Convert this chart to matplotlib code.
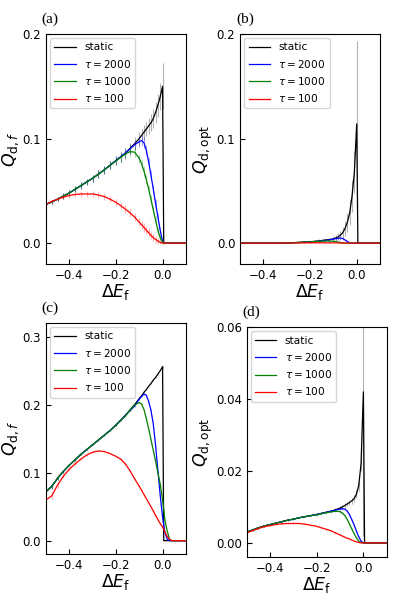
import numpy as np
import matplotlib
matplotlib.use('Agg')
import matplotlib.pyplot as plt

# grid of energy shifts (shared by every curve)
x = [-0.5, -0.475, -0.45, -0.425, -0.4, -0.375, -0.35, -0.325, -0.3, -0.275,
     -0.25, -0.225, -0.2, -0.18, -0.16, -0.14, -0.12, -0.1, -0.09, -0.08,
     -0.07, -0.06, -0.05, -0.04, -0.03, -0.02, -0.01, 0.0, 0.005, 0.01,
     0.02, 0.03, 0.04, 0.06, 0.08, 0.1]

labels = ['static', r'$\tau = 2000$', r'$\tau = 1000$', r'$\tau = 100$']
colors = ['black', 'blue', 'green', 'red']

# (a) Q_d,f
a_static = [0.037, 0.0395, 0.042, 0.045, 0.048, 0.0515, 0.055, 0.0585, 0.062, 0.066,
            0.070, 0.0745, 0.079, 0.0825, 0.086, 0.0905, 0.095, 0.100, 0.103, 0.106,
            0.109, 0.112, 0.115, 0.119, 0.125, 0.132, 0.140, 0.150, 0, 0,
            0, 0, 0, 0, 0, 0]
a_2000 = [0.037, 0.0395, 0.042, 0.045, 0.048, 0.0515, 0.055, 0.0585, 0.062, 0.066,
          0.070, 0.0745, 0.079, 0.0825, 0.086, 0.090, 0.094, 0.097, 0.098, 0.096,
          0.089, 0.078, 0.065, 0.052, 0.038, 0.025, 0.012, 0.002, 0, 0,
          0, 0, 0, 0, 0, 0]
a_1000 = [0.037, 0.0395, 0.042, 0.045, 0.048, 0.0515, 0.055, 0.0585, 0.062, 0.066,
          0.070, 0.0745, 0.0785, 0.082, 0.085, 0.0875, 0.087, 0.081, 0.076, 0.069,
          0.061, 0.052, 0.042, 0.032, 0.022, 0.012, 0.005, 0.001, 0, 0,
          0, 0, 0, 0, 0, 0]
a_100 = [0.037, 0.040, 0.042, 0.044, 0.0455, 0.0465, 0.047, 0.047, 0.047, 0.046,
         0.0445, 0.042, 0.039, 0.036, 0.0325, 0.029, 0.025, 0.020, 0.0175, 0.015,
         0.0125, 0.010, 0.0075, 0.0053, 0.0035, 0.002, 0.0008, 0.0, 0, 0,
         0, 0, 0, 0, 0, 0]
a_static_err = [0.002, 0.002, 0.002, 0.0025, 0.0025, 0.003, 0.003, 0.003, 0.0035, 0.0035,
                0.004, 0.004, 0.0045, 0.005, 0.005, 0.0055, 0.006, 0.006, 0.0065, 0.007,
                0.007, 0.0075, 0.008, 0.009, 0.010, 0.011, 0.013, 0.022, 0, 0,
                0, 0, 0, 0, 0, 0]
a_2000_err = [0.002, 0.002, 0.002, 0.0025, 0.0025, 0.003, 0.003, 0.003, 0.0035, 0.0035,
              0.004, 0.004, 0.0045, 0.0045, 0.005, 0.005, 0.005, 0.005, 0.005, 0.005,
              0.005, 0.0045, 0.0045, 0.004, 0.004, 0.0035, 0.003, 0.002, 0, 0,
              0, 0, 0, 0, 0, 0]
a_1000_err = [0.002, 0.002, 0.002, 0.0025, 0.0025, 0.003, 0.003, 0.003, 0.0035, 0.0035,
              0.004, 0.004, 0.004, 0.004, 0.0045, 0.0045, 0.0045, 0.0045, 0.0045, 0.0045,
              0.004, 0.004, 0.004, 0.0035, 0.0035, 0.003, 0.0025, 0.002, 0, 0,
              0, 0, 0, 0, 0, 0]
a_100_err = [0.001, 0.0015, 0.0015, 0.002, 0.002, 0.002, 0.0025, 0.0025, 0.0025, 0.003,
             0.003, 0.003, 0.0035, 0.0035, 0.004, 0.004, 0.004, 0.004, 0.004, 0.004,
             0.004, 0.004, 0.0035, 0.0035, 0.003, 0.0025, 0.002, 0.001, 0, 0,
             0, 0, 0, 0, 0, 0]

# (b) Q_d,opt
b_static = [0, 0, 0, 0, 0, 0, 0, 0, 0.0002, 0.0004,
            0.0007, 0.001, 0.0013, 0.0017, 0.0022, 0.0028, 0.0033, 0.004, 0.005, 0.006,
            0.0075, 0.010, 0.014, 0.020, 0.029, 0.045, 0.068, 0.114, 0, 0,
            0, 0, 0, 0, 0, 0]
b_2000 = [0, 0, 0, 0, 0, 0, 0, 0, 0.0002, 0.0003,
          0.0005, 0.0008, 0.001, 0.0014, 0.0018, 0.0024, 0.003, 0.0038, 0.0043, 0.0047,
          0.0048, 0.0044, 0.003, 0.0015, 0.0003, 0, 0, 0, 0, 0,
          0, 0, 0, 0, 0, 0]
b_1000 = [0, 0, 0, 0, 0, 0, 0, 0, 0.0002, 0.0004,
          0.0006, 0.0009, 0.0012, 0.0015, 0.0018, 0.002, 0.002, 0.0018, 0.0015, 0.001,
          0.0006, 0.0002, 0, 0, 0, 0, 0, 0, 0, 0,
          0, 0, 0, 0, 0, 0]
b_100 = [0, 0, 0, 0, 0, 0, 0, 0, 0.0001, 0.0001,
         0.0002, 0.0002, 0.0003, 0.0003, 0.0003, 0.0003, 0.0003, 0.0002, 0.0002, 0.0001,
         0.0001, 0, 0, 0, 0, 0, 0, 0, 0, 0,
         0, 0, 0, 0, 0, 0]
b_static_err = [0, 0, 0, 0, 0, 0, 0, 0, 0.0003, 0.0005,
                0.0007, 0.001, 0.001, 0.0012, 0.0015, 0.0018, 0.002, 0.0025, 0.003, 0.0035,
                0.004, 0.005, 0.007, 0.009, 0.012, 0.015, 0.020, 0.079, 0, 0,
                0, 0, 0, 0, 0, 0]
b_2000_err = [0, 0, 0, 0, 0, 0, 0, 0, 0.0002, 0.0003,
              0.0004, 0.0005, 0.0006, 0.0007, 0.0008, 0.0009, 0.001, 0.0012, 0.0013, 0.0014,
              0.0014, 0.0013, 0.001, 0.0006, 0.0002, 0, 0, 0, 0, 0,
              0, 0, 0, 0, 0, 0]
b_1000_err = [0, 0, 0, 0, 0, 0, 0, 0, 0.0002, 0.0003,
              0.0004, 0.0005, 0.0005, 0.0006, 0.0006, 0.0006, 0.0006, 0.0005, 0.0005, 0.0004,
              0.0003, 0.0001, 0, 0, 0, 0, 0, 0, 0, 0,
              0, 0, 0, 0, 0, 0]
b_100_err = [0, 0, 0, 0, 0, 0, 0, 0, 0.0001, 0.0002,
             0.0002, 0.0003, 0.0003, 0.0004, 0.0004, 0.0004, 0.0004, 0.0003, 0.0003, 0.0002,
             0.0001, 0, 0, 0, 0, 0, 0, 0, 0, 0,
             0, 0, 0, 0, 0, 0]

# (c) Q_d,f
c_static = [0.072, 0.080, 0.092, 0.102, 0.111, 0.119, 0.127, 0.134, 0.141, 0.148,
            0.155, 0.162, 0.170, 0.177, 0.184, 0.192, 0.200, 0.209, 0.213, 0.218,
            0.222, 0.227, 0.231, 0.236, 0.240, 0.245, 0.250, 0.256, 0, 0,
            0, 0, 0, 0, 0, 0]
c_2000 = [0.072, 0.080, 0.092, 0.102, 0.111, 0.119, 0.127, 0.134, 0.141, 0.148,
          0.155, 0.162, 0.170, 0.177, 0.184, 0.191, 0.198, 0.208, 0.212, 0.2155,
          0.214, 0.205, 0.192, 0.172, 0.140, 0.103, 0.066, 0.035, 0.022, 0.012,
          0.002, 0, 0, 0, 0, 0]
c_1000 = [0.072, 0.080, 0.092, 0.102, 0.111, 0.119, 0.127, 0.134, 0.141, 0.148,
          0.155, 0.162, 0.170, 0.177, 0.183, 0.192, 0.200, 0.203, 0.201, 0.193,
          0.180, 0.165, 0.149, 0.133, 0.117, 0.100, 0.083, 0.060, 0.046, 0.030,
          0.014, 0.002, 0, 0, 0, 0]
c_100 = [0.060, 0.066, 0.082, 0.095, 0.105, 0.113, 0.120, 0.126, 0.130, 0.132,
         0.131, 0.128, 0.124, 0.120, 0.113, 0.103, 0.091, 0.080, 0.074, 0.068,
         0.062, 0.056, 0.050, 0.044, 0.037, 0.031, 0.025, 0.020, 0.017, 0.013,
         0.006, 0.002, 0, 0, 0, 0]
c_static_err = [0.004, 0.004, 0.003, 0.002, 0.0015, 0.0015, 0.0012, 0.0012, 0.001, 0.001,
                0.001, 0.001, 0.001, 0.001, 0.001, 0.001, 0.001, 0.001, 0.001, 0.001,
                0.001, 0.001, 0.001, 0.001, 0.001, 0.001, 0.0012, 0.0015, 0, 0,
                0, 0, 0, 0, 0, 0]
c_2000_err = [0.004, 0.004, 0.003, 0.002, 0.0015, 0.0015, 0.0012, 0.0012, 0.001, 0.001,
              0.001, 0.001, 0.001, 0.001, 0.001, 0.001, 0.001, 0.001, 0.001, 0.001,
              0.001, 0.001, 0.001, 0.001, 0.001, 0.001, 0.001, 0.001, 0.001, 0.001,
              0.0005, 0, 0, 0, 0, 0]
c_1000_err = [0.004, 0.004, 0.003, 0.002, 0.0015, 0.0015, 0.0012, 0.0012, 0.001, 0.001,
              0.001, 0.001, 0.001, 0.001, 0.001, 0.001, 0.001, 0.001, 0.001, 0.001,
              0.001, 0.001, 0.001, 0.001, 0.001, 0.001, 0.001, 0.001, 0.001, 0.001,
              0.0005, 0.0005, 0, 0, 0, 0]
c_100_err = [0.005, 0.005, 0.004, 0.003, 0.002, 0.002, 0.0015, 0.0015, 0.0012, 0.0012,
             0.0012, 0.0012, 0.0012, 0.0012, 0.0012, 0.0012, 0.0012, 0.0012, 0.0012, 0.0012,
             0.0012, 0.0012, 0.0012, 0.0012, 0.0012, 0.0012, 0.0012, 0.001, 0.001, 0.001,
             0.0005, 0.0005, 0, 0, 0, 0]

# (d) Q_d,opt
d_static = [0.003, 0.0036, 0.0042, 0.0047, 0.0051, 0.0055, 0.0059, 0.0063, 0.0066, 0.0070,
            0.0073, 0.0076, 0.0079, 0.0082, 0.0085, 0.0088, 0.0092, 0.0097, 0.0100, 0.0104,
            0.0108, 0.0112, 0.0117, 0.0123, 0.0135, 0.016, 0.022, 0.042, 0, 0,
            0, 0, 0, 0, 0, 0]
d_2000 = [0.003, 0.0036, 0.0042, 0.0047, 0.0051, 0.0055, 0.0059, 0.0063, 0.0066, 0.0070,
          0.0073, 0.0076, 0.0079, 0.0082, 0.0085, 0.0088, 0.0091, 0.0094, 0.0095, 0.0094,
          0.0089, 0.0079, 0.0065, 0.0050, 0.0033, 0.0017, 0.0005, 0.0, 0, 0,
          0, 0, 0, 0, 0, 0]
d_1000 = [0.003, 0.0036, 0.0042, 0.0047, 0.0051, 0.0055, 0.0059, 0.0063, 0.0066, 0.0070,
          0.0073, 0.0076, 0.0078, 0.0081, 0.0084, 0.0086, 0.0088, 0.0087, 0.0083, 0.0076,
          0.0066, 0.0053, 0.0039, 0.0026, 0.0014, 0.0005, 0.0001, 0.0, 0, 0,
          0, 0, 0, 0, 0, 0]
d_100 = [0.0028, 0.0034, 0.0040, 0.0045, 0.0048, 0.0051, 0.0053, 0.0054, 0.0054, 0.0054,
         0.0052, 0.0049, 0.0046, 0.0042, 0.0038, 0.0034, 0.0028, 0.0022, 0.0019, 0.0016,
         0.0013, 0.0011, 0.0008, 0.0005, 0.0003, 0.0001, 0.0, 0.0, 0, 0,
         0, 0, 0, 0, 0, 0]
d_static_err = [0.0002, 0.0002, 0.0002, 0.0002, 0.0002, 0.0002, 0.0002, 0.0002, 0.0002, 0.0002,
                0.0002, 0.0002, 0.0003, 0.0003, 0.0003, 0.0003, 0.0004, 0.0005, 0.0005, 0.0006,
                0.0006, 0.0007, 0.0008, 0.0009, 0.0011, 0.0015, 0.002, 0.04, 0, 0,
                0, 0, 0, 0, 0, 0]
d_2000_err = [0.0002, 0.0002, 0.0002, 0.0002, 0.0002, 0.0002, 0.0002, 0.0002, 0.0002, 0.0002,
              0.0002, 0.0002, 0.0002, 0.0002, 0.0003, 0.0003, 0.0003, 0.0003, 0.0003, 0.0003,
              0.0003, 0.0003, 0.0002, 0.0002, 0.0002, 0.0001, 0.0001, 0, 0, 0,
              0, 0, 0, 0, 0, 0]
d_1000_err = [0.0002, 0.0002, 0.0002, 0.0002, 0.0002, 0.0002, 0.0002, 0.0002, 0.0002, 0.0002,
              0.0002, 0.0002, 0.0002, 0.0002, 0.0003, 0.0003, 0.0003, 0.0003, 0.0003, 0.0003,
              0.0002, 0.0002, 0.0002, 0.0002, 0.0001, 0.0001, 0, 0, 0, 0,
              0, 0, 0, 0, 0, 0]
d_100_err = [0.0002, 0.0002, 0.0002, 0.0002, 0.0002, 0.0002, 0.0002, 0.0002, 0.0002, 0.0002,
             0.0002, 0.0002, 0.0002, 0.0002, 0.0002, 0.0002, 0.0002, 0.0002, 0.0001, 0.0001,
             0.0001, 0.0001, 0.0001, 0.0001, 0, 0, 0, 0, 0, 0,
             0, 0, 0, 0, 0, 0]

panels = [
    ('(a)', [a_static, a_2000, a_1000, a_100],
     [a_static_err, a_2000_err, a_1000_err, a_100_err],
     r'$Q_{\mathrm{d},f}$', (-0.02, 0.2), [0.0, 0.1, 0.2], '%.1f'),
    ('(b)', [b_static, b_2000, b_1000, b_100],
     [b_static_err, b_2000_err, b_1000_err, b_100_err],
     r'$Q_{\mathrm{d,opt}}$', (-0.02, 0.2), [0.0, 0.1, 0.2], '%.1f'),
    ('(c)', [c_static, c_2000, c_1000, c_100],
     [c_static_err, c_2000_err, c_1000_err, c_100_err],
     r'$Q_{\mathrm{d},f}$', (-0.02, 0.32), [0.0, 0.1, 0.2, 0.3], '%.1f'),
    ('(d)', [d_static, d_2000, d_1000, d_100],
     [d_static_err, d_2000_err, d_1000_err, d_100_err],
     r'$Q_{\mathrm{d,opt}}$', (-0.004, 0.06), [0.0, 0.02, 0.04, 0.06], '%.2f'),
]

# axes boxes in figure fraction [left, bottom, width, height]
boxes = [[0.117, 0.557, 0.356, 0.386],
         [0.611, 0.557, 0.356, 0.386],
         [0.117, 0.070, 0.356, 0.388],
         [0.628, 0.065, 0.356, 0.386]]

fig = plt.figure(figsize=(3.93, 5.96), dpi=100)

for box, (tag, ys, errs, ylab, ylim, yt, fmt) in zip(boxes, panels):
    ax = fig.add_axes(box)
    for y, e, c, lab in zip(ys, errs, colors, labels):
        ax.errorbar(x, y, yerr=e, fmt='none', ecolor=c, alpha=0.3, elinewidth=0.8)
        ax.plot(x, y, color=c, lw=0.9, label=lab)
    ax.set_xlim(-0.5, 0.1)
    ax.set_ylim(*ylim)
    ax.set_xticks([-0.4, -0.2, 0.0])
    ax.set_yticks(yt)
    ax.set_yticklabels([fmt % v for v in yt])
    ax.set_xticklabels(['\u22120.4', '\u22120.2', '0.0'])
    ax.tick_params(direction='in', length=3.5, labelsize=8.5)
    ax.set_xlabel(r'$\Delta E_\mathrm{f}$', fontsize=12.5, labelpad=0)
    ax.set_ylabel(ylab, fontsize=12.5, labelpad=1)
    ax.legend(loc='upper left', fontsize=7.6, handlelength=2.0, borderaxespad=0.4)
    ax.text(-0.03, 1.035, tag, transform=ax.transAxes, family='Liberation Serif',
            fontsize=11, ha='left', va='bottom')

fig.savefig('out.png', dpi=100)
